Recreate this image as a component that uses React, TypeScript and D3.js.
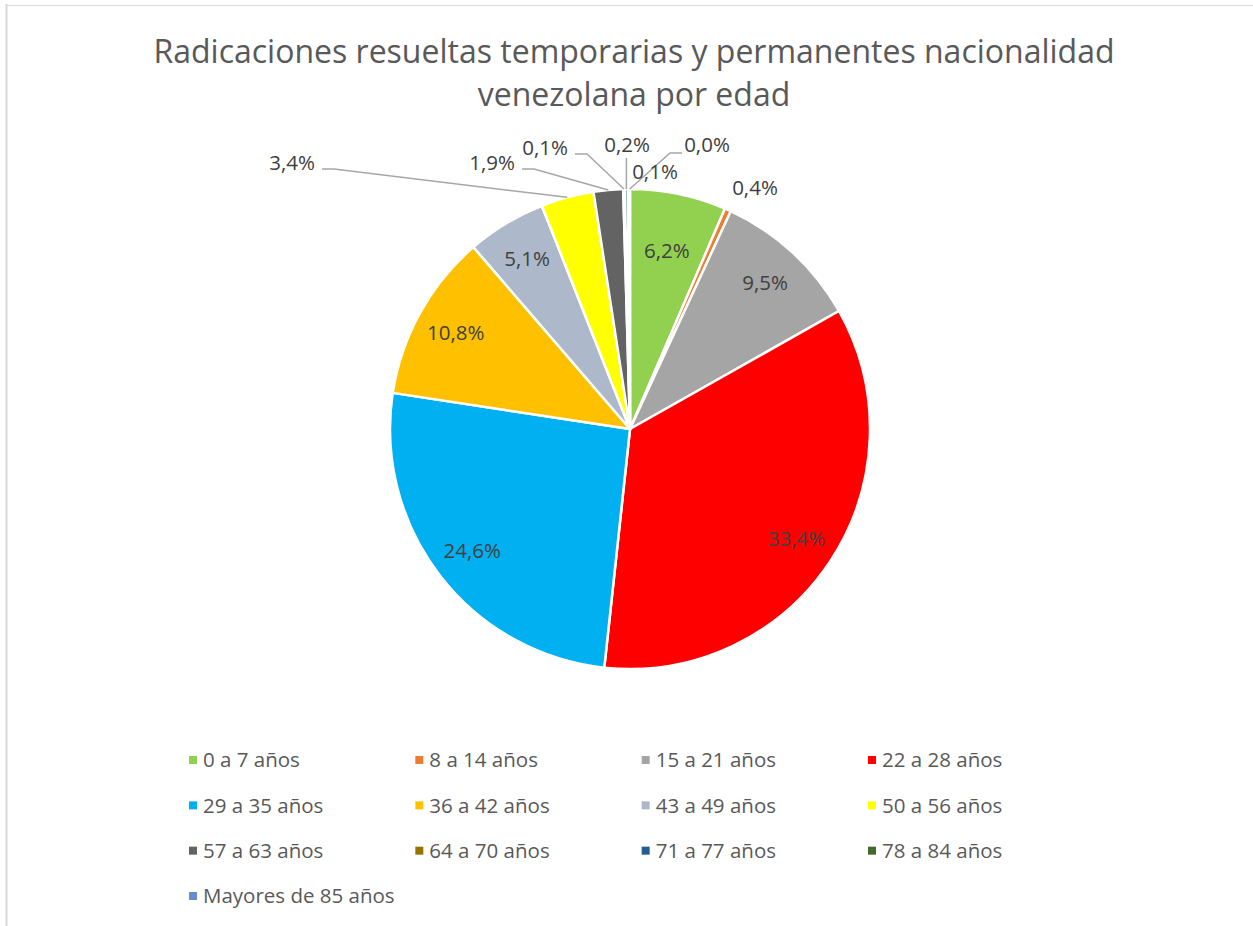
import React, { useEffect, useRef } from 'react';
import * as d3 from 'd3';

// Chart data
const categories = [
  '0 a 7 años', '8 a 14 años', '15 a 21 años', '22 a 28 años',
  '29 a 35 años', '36 a 42 años', '43 a 49 años', '50 a 56 años',
  '57 a 63 años', '64 a 70 años', '71 a 77 años', '78 a 84 años',
  'Mayores de 85 años',
];
const values = [6.2, 0.4, 9.5, 33.4, 24.6, 10.8, 5.1, 3.4, 1.9, 0.1, 0.2, 0.1, 0.03];
const labels = ['6,2%', '0,4%', '9,5%', '33,4%', '24,6%', '10,8%', '5,1%', '3,4%', '1,9%', '0,1%', '0,2%', '0,1%', '0,0%'];
const colors = [
  '#92d050', '#ed7d31', '#a5a5a5', '#ff0000', '#00b0f0', '#ffc000', '#adb9ca',
  '#ffff00', '#636363', '#997300', '#255e91', '#43682b', '#698ed0',
];

// label placement for the slices whose label sits outside (offset from pie centre, leader side)
const outside: Record<number, { dx: number; dy: number; leader: string }> = {
  1: { dx: 125, dy: -241, leader: 'none' },
  7: { dx: -338, dy: -266, leader: 'right' },
  8: { dx: -138, dy: -266, leader: 'right' },
  9: { dx: -85, dy: -281, leader: 'right' },
  10: { dx: -3, dy: -284, leader: 'bottom' },
  11: { dx: 25, dy: -257, leader: 'none' },
  12: { dx: 77, dy: -284, leader: 'left' },
};
// inside labels sit at this fraction of the radius (best-fit tweak for the first slice)
const insideRatio: Record<number, number> = { 0: 0.76 };

const FONT = "'Open Sans', 'Noto Sans', sans-serif";

const App = () => {
  const svgRef = useRef<SVGSVGElement>(null);

  useEffect(() => {
    const width = 1253;
    const height = 926;
    const cx = 630;
    const cy = 429;
    const radius = 240;

    const svg = d3.select(svgRef.current);
    svg.selectAll('*').remove();
    svg.attr('width', width).attr('height', height).style('background', '#fff');

    // chart border (only left and top visible)
    svg.append('line').attr('x1', 6.5).attr('x2', 6.5).attr('y1', 4).attr('y2', height)
      .attr('stroke', '#d9d9d9').attr('stroke-width', 2);
    svg.append('line').attr('x1', 6).attr('x2', width).attr('y1', 5.5).attr('y2', 5.5)
      .attr('stroke', '#d9d9d9').attr('stroke-width', 1);

    // Title
    const title = svg.append('text')
      .attr('text-anchor', 'middle')
      .style('font-family', FONT)
      .style('font-size', '32px')
      .style('fill', '#595959');
    title.append('tspan').attr('x', 634).attr('y', 63)
      .text('Radicaciones resueltas temporarias y permanentes nacionalidad');
    title.append('tspan').attr('x', 634).attr('y', 106).text('venezolana por edad');

    const pie = d3.pie<number>().sort(null).value(d => d);
    const arcs = pie(values);
    const arc = d3.arc<d3.PieArcDatum<number>>().innerRadius(0).outerRadius(radius);
    const edgeArc = d3.arc<d3.PieArcDatum<number>>().innerRadius(radius).outerRadius(radius);
    const labelPos = (a: d3.PieArcDatum<number>, i: number) => {
      const r = radius * (insideRatio[i] ?? 0.83);
      return d3.arc<d3.PieArcDatum<number>>().innerRadius(r).outerRadius(r).centroid(a);
    };

    const g = svg.append('g').attr('transform', `translate(${cx},${cy})`);

    g.selectAll('path.slice')
      .data(arcs)
      .join('path')
      .attr('class', 'slice')
      .attr('d', arc)
      .attr('fill', (_, i) => colors[i])
      .attr('stroke', '#fff')
      .attr('stroke-width', 2.5)
      .attr('stroke-linejoin', 'round');

    // Leader lines
    arcs.forEach((a, i) => {
      const o = outside[i];
      if (!o || o.leader === 'none') return;
      const [ex, ey] = edgeArc.centroid(a);
      let pts: [number, number][] = [];
      if (o.leader === 'right') {
        pts = [[o.dx + 30, o.dy + 6], [o.dx + 42, o.dy + 6], [ex, ey]];
      } else if (o.leader === 'left') {
        pts = [[o.dx - 25, o.dy + 8], [o.dx - 37, o.dy + 8], [ex, ey]];
      } else {
        pts = [[ex, o.dy + 13], [ex, ey]];
      }
      g.append('path')
        .attr('d', d3.line()(pts))
        .attr('fill', 'none')
        .attr('stroke', '#a6a6a6')
        .attr('stroke-width', 1.5);
    });

    // Data labels
    g.selectAll('text.lbl')
      .data(arcs)
      .join('text')
      .attr('class', 'lbl')
      .attr('x', (d, i) => (outside[i] ? outside[i].dx : labelPos(d, i)[0]))
      .attr('y', (d, i) => (outside[i] ? outside[i].dy : labelPos(d, i)[1]))
      .attr('dy', '0.35em')
      .attr('text-anchor', 'middle')
      .style('font-family', FONT)
      .style('font-size', '20.5px')
      .style('fill', '#404040')
      .text((_, i) => labels[i]);

    // Legend
    const colX = d3.scalePoint<number>().domain([0, 1, 2, 3]).range([193, 872]);
    const rowY = d3.scalePoint<number>().domain([0, 1, 2, 3]).range([760, 896]);
    const legend = svg.append('g');
    const items = legend.selectAll('g.item')
      .data(categories)
      .join('g')
      .attr('class', 'item')
      .attr('transform', (_, i) => `translate(${colX(i % 4)},${rowY(Math.floor(i / 4))})`);
    items.append('rect')
      .attr('x', -4).attr('y', -4).attr('width', 8).attr('height', 8)
      .attr('fill', (_, i) => colors[i]);
    items.append('text')
      .attr('x', 10)
      .attr('dy', '0.35em')
      .style('font-family', FONT)
      .style('font-size', '20.5px')
      .style('fill', '#595959')
      .text(d => d);
  }, []);

  return (
    <div style={{ position: 'absolute', left: 0, top: 0 }}>
      <svg ref={svgRef}></svg>
    </div>
  );
};

export default App;
